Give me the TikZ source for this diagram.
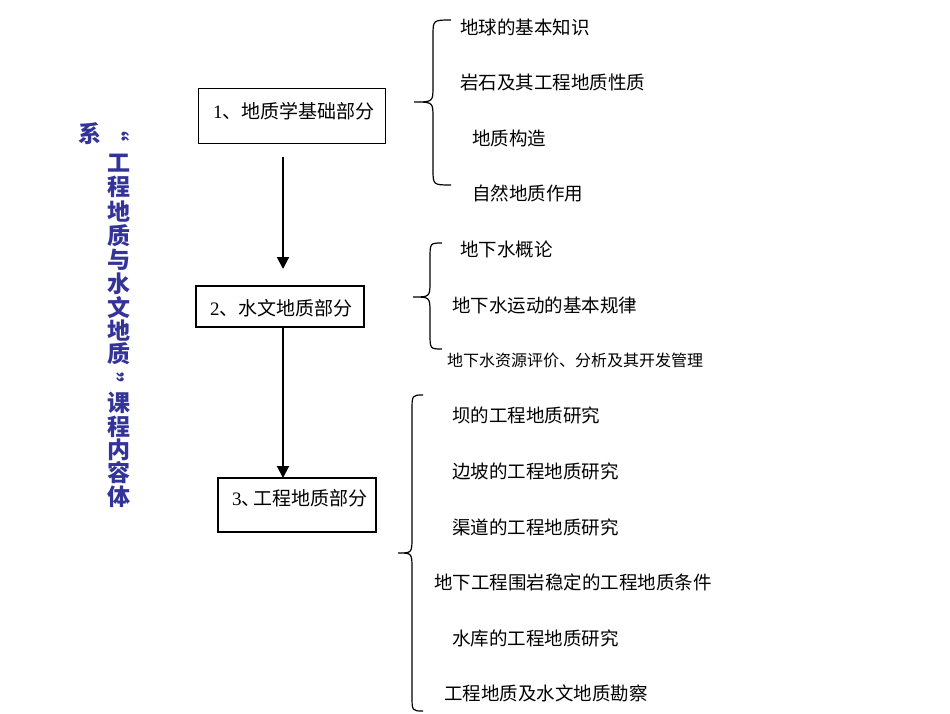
\documentclass[tikz,border=0pt]{standalone}
\usepackage{fontspec}
\setmainfont{Liberation Serif}
\newfontfamily\cjk{Noto Sans CJK SC}
\usetikzlibrary{arrows.meta}
\definecolor{titleblue}{RGB}{51,51,153}
% #1 end x, #2 top y, #3 bottom y, #4 stem x, #5 tip x, #6 tip y
\newcommand\curlybr[6]{%
  \draw[bracestyle] (#1,#2) .. controls (#4,#2) .. (#4,#2+16) -- (#4,#6-16)
    .. controls (#4,#6) .. (#5,#6) .. controls (#4,#6) .. (#4,#6+16)
    -- (#4,#3-16) .. controls (#4,#3) .. (#1,#3);}
\begin{document}
\begin{tikzpicture}[x=1pt,y=-1pt,
  box/.style={draw, line width=1.3pt, inner sep=0pt, outer sep=0pt},
  boxtext/.style={anchor=west, inner sep=0pt, font=\fontsize{19}{21}\selectfont},
  item/.style={anchor=west, inner sep=0pt, font=\cjk\fontsize{18.5}{20}\selectfont},
  smallitem/.style={anchor=west, inner sep=0pt, font=\cjk\fontsize{16}{18}\selectfont},
  titlech/.style={inner sep=0pt, text=titleblue, font=\cjk\bfseries\fontsize{23}{24}\selectfont},
  flow/.style={line width=2pt, -{Triangle[width=12pt,length=12pt]}},
  bracestyle/.style={line width=1.2pt}]
\useasboundingbox (0,0) rectangle (950,713);

% title (vertical)
\node[titlech] (sys) at (90,134) {系};
\node[titlech, rotate=-90] (q1) at (119,130) {“};
\foreach \ch/\yy [count=\i] in {工/163,程/187,地/212,质/236,与/260,水/284,文/308,地/331,质/354}
  \node[titlech] (ta\i) at (119,\yy) {\ch};
\node[titlech, rotate=-90] (q2) at (114,384) {”};
\foreach \ch/\yy [count=\i] in {课/403,程/427,内/450,容/473,体/497}
  \node[titlech] (tb\i) at (119,\yy) {\ch};

% boxes
\node[box, minimum width=187pt, minimum height=55pt] (b1) at (292,116) {};
\node[boxtext] (t1) at (213,111) {1{\cjk 、地质学基础部分}};
\node[box, minimum width=168pt, minimum height=41pt] (b2) at (280,306.5) {};
\node[boxtext] (t2) at (210,308) {2{\cjk 、水文地质部分}};
\node[box, minimum width=158pt, minimum height=54pt] (b3) at (297,505) {};
\node[boxtext] (t3) at (232,498) {3{\cjk 、}\hspace{-7pt}{\cjk 工程地质部分}};

% arrows
\coordinate (a1s) at (283,157);
\coordinate (a1e) at (283,269);
\draw[flow] (a1s) -- (a1e);
\coordinate (a2x) at (283,0);
\draw[flow] (b2.south -| a2x) -- (b3.north -| a2x);

% braces
\curlybr{451}{20}{185}{433}{414}{102}
\curlybr{442}{243}{349}{430}{413}{297}
\curlybr{423}{395}{711}{412}{398}{553}

% group 1
\node[item] (g1a) at (460,27) {地球的基本知识};
\node[item] (g1b) at (460,82) {岩石及其工程地质性质};
\node[item] (g1c) at (472,138) {地质构造};
\node[item] (g1d) at (472,193) {自然地质作用};
% group 2
\node[item] (g2a) at (460,249) {地下水概论};
\node[item] (g2b) at (452,305) {地下水运动的基本规律};
\node[smallitem] (g2c) at (447,360) {地下水资源评价、分析及其开发管理};
% group 3
\node[item] (g3a) at (452,415) {坝的工程地质研究};
\node[item] (g3b) at (452,471) {边坡的工程地质研究};
\node[item] (g3c) at (452,527) {渠道的工程地质研究};
\node[item] (g3d) at (434,582) {地下工程围岩稳定的工程地质条件};
\node[item] (g3e) at (452,638) {水库的工程地质研究};
\node[item] (g3f) at (444,693) {工程地质及水文地质勘察};
\end{tikzpicture}
\end{document}
